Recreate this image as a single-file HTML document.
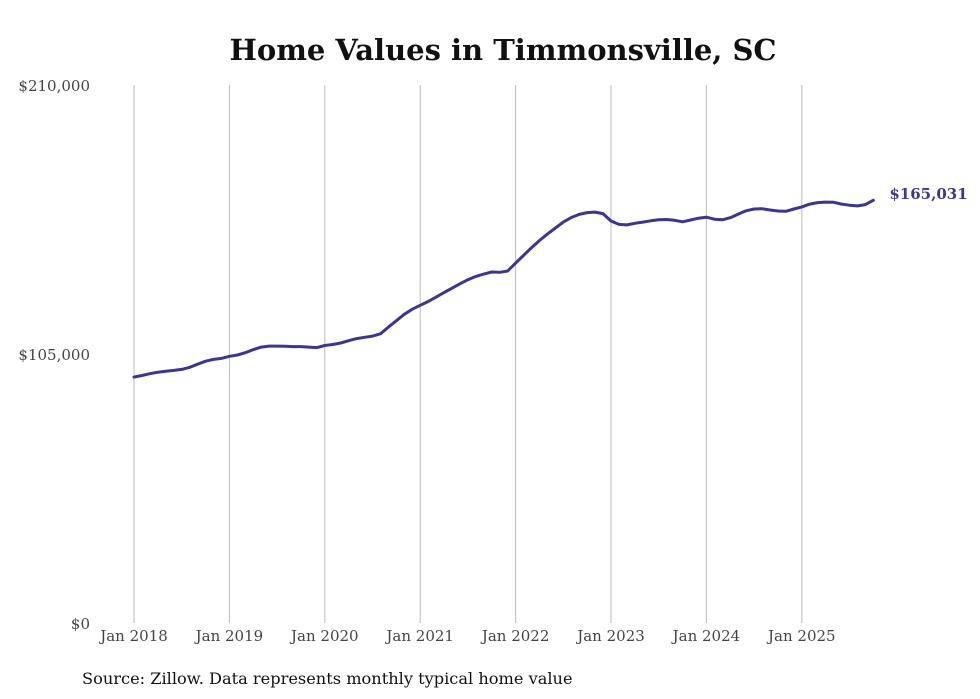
<!DOCTYPE html>
<html><head><meta charset="utf-8"><style>
body{margin:0;background:#fff;}
svg{display:block;font-family:"DejaVu Serif","Liberation Serif",serif;}
</style></head><body>
<svg id="chart" width="980" height="699">
<text x="503" y="60" text-anchor="middle" font-size="29" font-weight="bold" fill="#111">Home Values in Timmonsville, SC</text>
<g id="grid"></g><g id="yaxis"></g><g id="xaxis"></g><g id="series"></g>
<text x="82" y="684" font-size="16.2" fill="#111">Source: Zillow. Data represents monthly typical home value</text>
</svg>
<script>
const yTicks=[0,105000,210000];
const yTickLabels=["$0","$105,000","$210,000"];
const xYears=[2018,2019,2020,2021,2022,2023,2024,2025];
const xTickLabels=["Jan 2018","Jan 2019","Jan 2020","Jan 2021","Jan 2022","Jan 2023","Jan 2024","Jan 2025"];
const values=[
96.0,96.6,97.3,97.9,98.3,98.6,99.0,99.8,101.0,102.2,102.9,103.3,
104.1,104.6,105.5,106.7,107.7,108.1,108.1,108.0,107.9,107.9,107.7,107.5,
108.3,108.7,109.3,110.2,111.0,111.5,112.0,112.9,115.5,118.0,120.5,122.5,
124.0,125.5,127.2,129.0,130.7,132.4,134.0,135.3,136.2,137.0,136.9,137.4,
140.5,143.5,146.5,149.3,151.8,154.2,156.5,158.3,159.5,160.2,160.4,159.8,
156.9,155.6,155.4,156.0,156.5,157.0,157.4,157.5,157.2,156.6,157.3,158.0,
158.4,157.6,157.4,158.2,159.6,160.9,161.6,161.7,161.2,160.8,160.7,161.6,
162.4,163.5,164.1,164.3,164.2,163.5,163.1,162.8,163.3,165.031
].map(v=>v*1000);
const lastLabel="$165,031";
const NS="http://www.w3.org/2000/svg";
const x=m=>134+m*(95.4/12);
const y=v=>623-v/210000*538;
function mk(t,a,p){const e=document.createElementNS(NS,t);for(const k in a)e.setAttribute(k,a[k]);p.appendChild(e);return e;}
const grid=document.getElementById('grid'),ya=document.getElementById('yaxis'),xa=document.getElementById('xaxis'),se=document.getElementById('series');
xYears.forEach((yr,i)=>{
 const m=(yr-2018)*12;
 const l=mk('line',{x1:x(m),x2:x(m),y1:85,y2:623,stroke:'#bbb','stroke-width':1},grid);
 
 
 const t=mk('text',{x:x(m),y:641,'text-anchor':'middle','font-size':15,fill:'#444'},xa);
 t.textContent=xTickLabels[i];
 
 
});
yTicks.forEach((v,i)=>{
 const t=mk('text',{x:90,y:y(v)+6,'text-anchor':'end','font-size':15,fill:'#444'},ya);
 t.textContent=yTickLabels[i];
 
 
});
const pts=values.map((v,i)=>x(i).toFixed(1)+','+y(v).toFixed(1)).join(' ');
const pl=mk('polyline',{points:pts,fill:'none',stroke:'#3b3596','stroke-width':3,'stroke-linejoin':'round','stroke-linecap':'round'},se);


const li=values.length-1;
const lt=mk('text',{x:x(li)+16,y:y(values[li])-1,'font-size':15,'font-weight':'bold',fill:'#3b3596'},se);
lt.textContent=lastLabel;


</script>
</body></html>
